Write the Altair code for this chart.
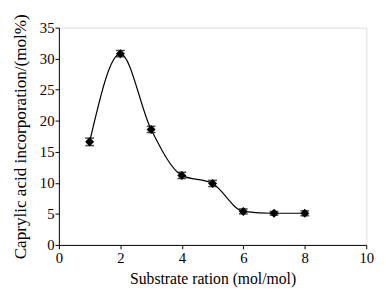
import altair as alt
import pandas as pd

ratio = [1, 2, 3, 4, 5, 6, 7, 8]
incorporation = [16.6, 30.8, 18.6, 11.2, 9.9, 5.4, 5.1, 5.1]
err = [0.6, 0.5, 0.5, 0.5, 0.5, 0.4, 0.3, 0.4]
x_ticks = [0, 2, 4, 6, 8, 10]
y_ticks = [0, 5, 10, 15, 20, 25, 30, 35]

df = pd.DataFrame({"x": ratio, "y": incorporation, "e": err})
df["lo"] = df["y"] - df["e"]
df["hi"] = df["y"] + df["e"]

font = "Liberation Serif"
xs = alt.Scale(domain=[0, 10], nice=False)
ys = alt.Scale(domain=[0, 35], nice=False)

xax = alt.Axis(values=x_ticks, title="Substrate ration (mol/mol)", titlePadding=5, labelPadding=2,
               titleFontSize=16)
yax = alt.Axis(values=y_ticks, title="Caprylic acid incorporation/(mol%)", titlePadding=10, labelPadding=1,
               titleFontSize=17.5)

X = alt.X("x:Q", scale=xs, axis=xax)

base = alt.Chart(df)
line = base.mark_line(color="black", strokeWidth=1.2, interpolate="monotone").encode(
    x=X, y=alt.Y("y:Q", scale=ys, axis=yax))
bars = base.mark_rule(color="black", strokeWidth=1.5).encode(
    x=X, y=alt.Y("lo:Q", scale=ys, axis=yax), y2="hi:Q")
caps = base.mark_tick(color="black", thickness=1.5, size=9, orient="horizontal").encode(
    x=X, y=alt.Y("hi:Q", scale=ys, axis=yax))
caps2 = base.mark_tick(color="black", thickness=1.5, size=9, orient="horizontal").encode(
    x=X, y=alt.Y("lo:Q", scale=ys, axis=yax))
pts = base.mark_point(shape="diamond", filled=True, color="black", size=85, opacity=1).encode(
    x=X, y=alt.Y("y:Q", scale=ys, axis=yax))

chart = (line + bars + caps + caps2 + pts).properties(
    width=314, height=222,
    autosize=alt.AutoSizeParams(type="none"),
    padding={"left": 52, "top": 17, "right": 12, "bottom": 43},
).configure_view(stroke=None).configure(background="white").configure_axis(
    grid=False, labelFont=font, titleFont=font, labelFontSize=15,
    titleFontWeight="normal", labelColor="black", titleColor="black",
    domainColor="black", tickColor="black", tickSize=4,
    labelOverlap=False, labelFlush=False,
)

chart.save("out.html", embed_options={"renderer": "svg", "actions": False})
